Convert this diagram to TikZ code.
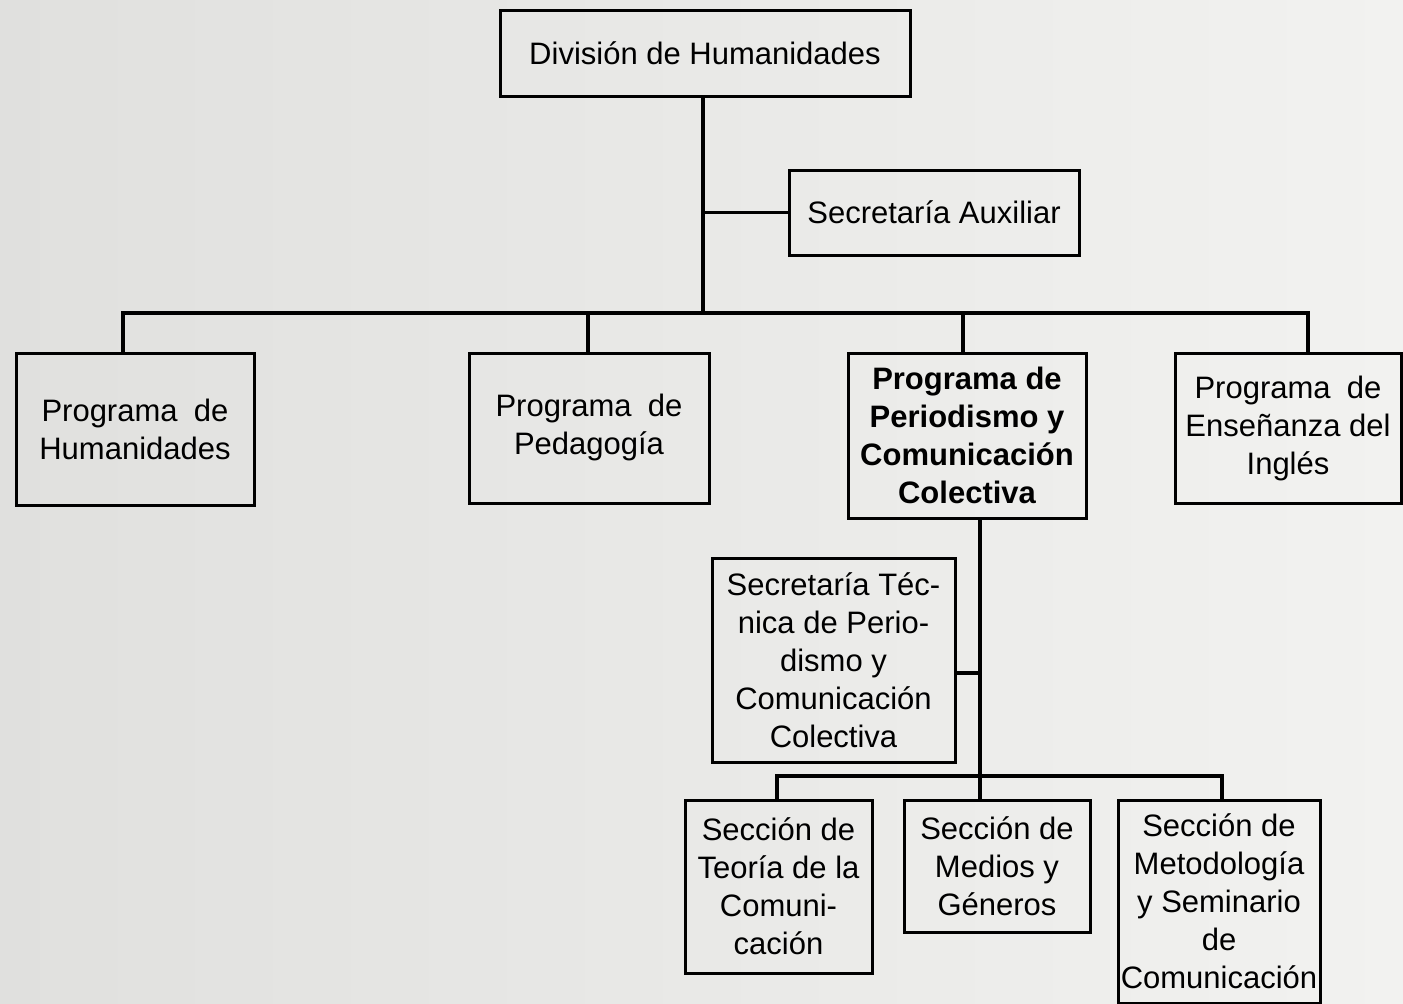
\documentclass[tikz,border=0pt]{standalone}
\usepackage{fontspec}
\setmainfont{Liberation Sans}
\definecolor{bgL}{RGB}{224,224,222}
\definecolor{bgR}{RGB}{242,242,240}
\tikzset{
  x=0.5pt, y=-0.5pt,
  box/.style={draw=black, line width=1.5pt, inner sep=0pt, align=center,
    font=\fontsize{15.5}{19}\selectfont},
  link/.style={draw=black, line width=1.6pt}
}
\begin{document}
\begin{tikzpicture}
\useasboundingbox (0,0) rectangle (1403,1003);
\clip (0,0) rectangle (1403,1003);
\shade[left color=bgL, right color=bgR] (0,0) rectangle (1403,1003);

\node[box, minimum width=205pt, minimum height=43pt] (top) at (705,53) {División de Humanidades};
\node[box, minimum width=145pt, minimum height=42.5pt] (aux) at (934,212.5) {Secretaría Auxiliar};
\node[box, minimum width=119pt, minimum height=76pt] (hum) at (135,429) {Programa\hspace{0.25em} de\\Humanidades};
\node[box, minimum width=120pt, minimum height=75pt, text depth=4pt] (ped) at (589,428) {Programa\hspace{0.25em} de\\Pedagogía};
\node[box, minimum width=119pt, minimum height=82.5pt, font=\bfseries\fontsize{15.5}{19}\selectfont] (per) at (967,435.5) {Programa de\\Periodismo y\\Comunicación\\Colectiva};
\node[box, minimum width=113pt, minimum height=75pt] (ing) at (1288,428) {Programa\hspace{0.25em} de\\Enseñanza del\\Inglés};
\node[box, minimum width=121.5pt, minimum height=102pt] (sec) at (833.5,660) {Secretaría Téc-\\nica de Perio-\\dismo y\\Comunicación\\Colectiva};
\node[box, minimum width=93.5pt, minimum height=86.5pt] (teo) at (778.5,886.5) {Sección de\\Teoría de la\\Comuni-\\cación};
\node[box, minimum width=93pt, minimum height=66pt] (med) at (997,866) {Sección de\\Medios y\\Géneros};
\node[box, minimum width=101pt, minimum height=101.5pt] (met) at (1219,901.5) {Sección de\\Metodología\\y Seminario\\de\\Comunicación};

% upper connectors
\coordinate (busL) at (123,313);
\coordinate (busR) at (1308,313);
\coordinate (dP) at (588,313);
\coordinate (dR) at (963,313);
\draw[link] ([xshift=-1pt]top.south) -- ([xshift=-1pt]top.south |- busL);
\draw[link] ([xshift=-1pt]top.south |- aux.west) -- (aux.west);
\draw[link] (busL |- hum.north) -- (busL) -- (busR) -- (busR |- ing.north);
\draw[link] (dP) -- (dP |- ped.north);
\draw[link] (dR) -- (dR |- per.north);

% lower connectors
\coordinate (t2) at (980,518);
\coordinate (lbL) at (777,776);
\coordinate (lbR) at (1222,776);
\draw[link] (t2) -- (t2 |- med.north);
\draw[link] ([yshift=-6.5pt]sec.east) -- ([yshift=-6.5pt]sec.east -| t2);
\draw[link] (lbL |- teo.north) -- (lbL) -- (lbR) -- (lbR |- met.north);
\end{tikzpicture}
\end{document}
